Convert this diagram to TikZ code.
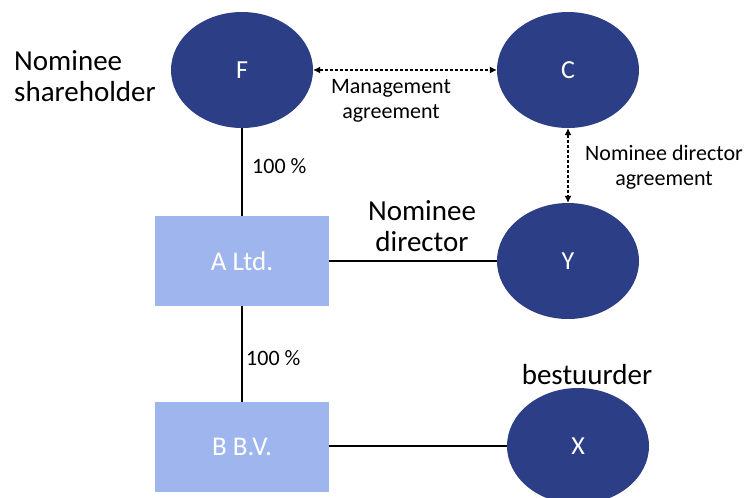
\documentclass[tikz,border=0pt]{standalone}
\usepackage{fontspec}
\setmainfont{Carlito}
\usetikzlibrary{shapes.geometric,arrows.meta}
\definecolor{dkblue}{HTML}{2C3E86}
\definecolor{ltblue}{HTML}{9EB5EE}
\tikzset{
  person/.style={ellipse, fill=dkblue, draw=none, minimum width=142pt, minimum height=116pt, inner sep=0pt, text=white, font=\fontsize{26}{30}\selectfont},
  company/.style={rectangle, fill=ltblue, draw=none, minimum width=174pt, minimum height=90pt, inner sep=0pt, text=white, font=\fontsize{27}{30}\selectfont},
  link/.style={line width=1.1pt, black},
  agree/.style={line width=1.1pt, black, dash pattern=on 3pt off 2pt, {Latex[length=7pt,width=7pt]}-{Latex[length=7pt,width=7pt]}},
  small/.style={font=\fontsize{22}{25}\selectfont, align=center, inner sep=0pt},
  big/.style={font=\fontsize{29}{31}\selectfont, align=center, inner sep=0pt}
}
\begin{document}
\begin{tikzpicture}[x=1pt,y=-1pt]
\useasboundingbox (0,0) rectangle (750,498);
\node[person] (F) at (242,70) {F};
\node[person] (C) at (568,70) {C};
\node[person] (Y) at (568,261) {Y};
\node[person] (X) at (578,446) {X};
\node[company] (A) at (242,261) {A Ltd.};
\node[company] (B) at (242,447) {B B.V.};
\draw[link] (F) -- (A);
\draw[link] (A) -- (B);
\draw[link] (A.east |- Y.west) -- (Y.west);
\draw[link] (B.east |- X.west) -- (X.west);
\draw[agree] (F) -- (C);
\draw[agree] (C) -- (Y);
\node[small, anchor=west] (p1) at (252,166) {100 \%};
\node[small, anchor=west] (p2) at (246,358) {100 \%};
\node[small] (ma) at (391,101) {Management\\agreement};
\node[small] (nda) at (664,167) {Nominee director\\agreement};
\node[big, anchor=west, align=left] (ns) at (14,76) {Nominee\\shareholder};
\node[big] (nd) at (422,226) {Nominee\\director};
\node[big] (bs) at (587,375) {bestuurder};
\end{tikzpicture}
\end{document}
